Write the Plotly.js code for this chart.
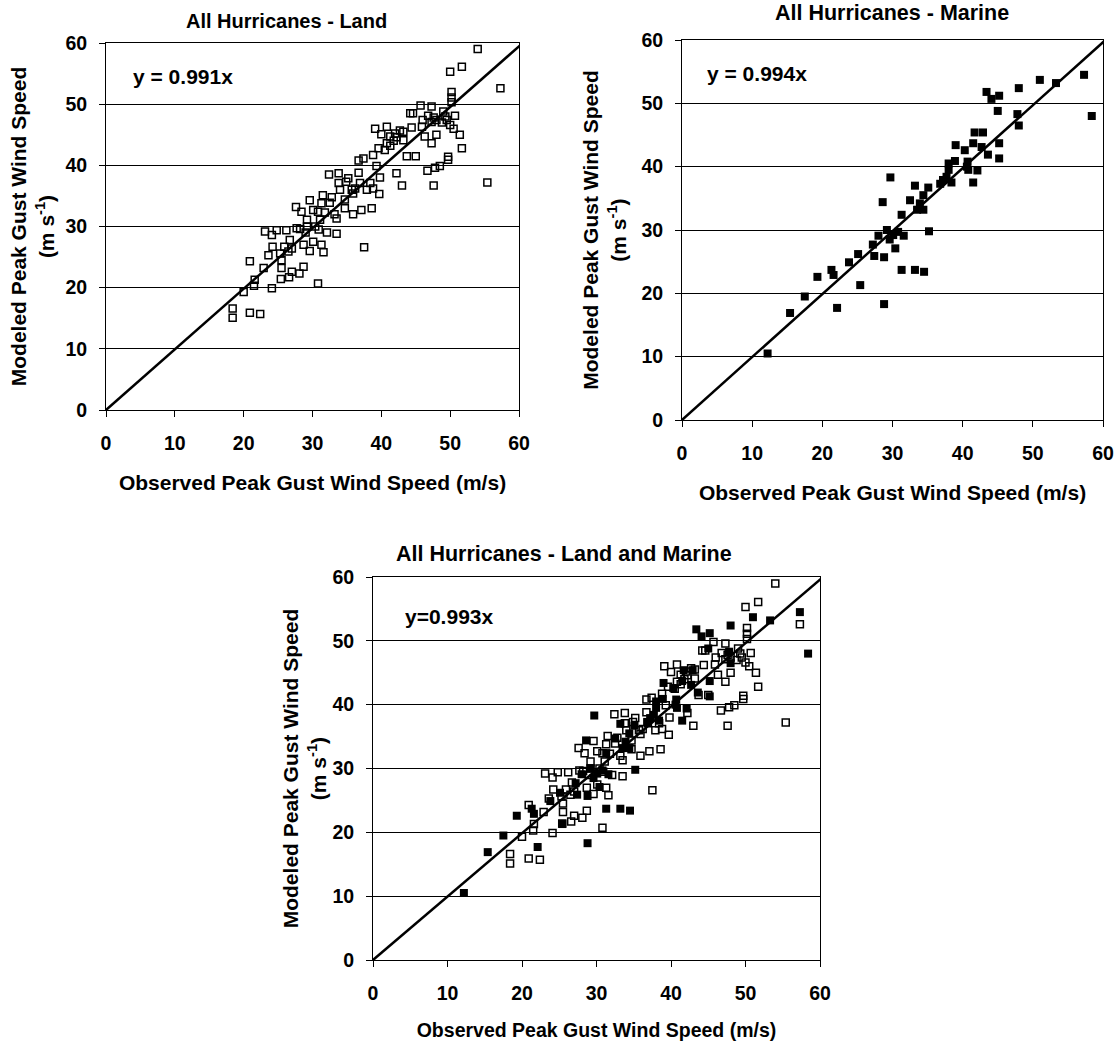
<!DOCTYPE html>
<html>
<head>
<meta charset="utf-8">
<script src="https://cdn.plot.ly/plotly-3.0.1.min.js"></script>
<style>html,body{margin:0;padding:0;background:#fff;}#chart{width:1119px;height:1044px;}</style>
</head>
<body>
<div id="chart"></div>
<script>
// ---- Data ----
const landObserved = [54.0,50.0,51.7,57.3,50.2,50.2,50.2,45.7,47.3,44.2,44.6,49.0,50.7,47.6,46.8,47.3,48.0,49.5,50.0,50.5,51.4,51.7,45.9,46.3,48.0,47.3,44.4,43.2,42.7,42.0,41.3,40.8,39.1,40.0,42.2,43.2,40.8,39.6,40.5,41.3,43.7,45.0,49.7,49.7,48.5,47.8,46.7,47.6,55.4,43.0,42.2,38.8,37.4,36.7,39.3,39.8,36.7,35.2,33.8,32.4,33.8,34.9,36.9,38.4,36.2,35.7,37.9,38.8,39.7,35.9,34.7,31.5,29.6,31.3,32.5,27.6,28.4,30.1,30.8,31.8,33.5,34.7,35.9,37.1,38.6,29.2,31.1,27.7,29.2,30.4,30.9,23.1,24.1,24.8,26.2,26.7,32.1,33.5,28.7,30.1,29.6,31.3,31.6,37.5,24.2,23.6,25.3,25.5,26.5,27.0,20.9,22.9,25.5,27.0,28.1,28.7,26.6,25.4,21.6,21.5,30.8,24.1,20.0,18.4,18.4,20.9,22.4,28.2,32.8,33.2,25.9,48.8,49.3,46.0,41.8,29.0,34.0];
const landModeled  = [59.0,55.3,56.1,52.6,52.0,51.1,50.3,49.8,49.6,48.5,48.5,48.8,48.1,47.8,48.1,47.1,47.4,47.4,46.6,46.0,45.0,42.8,46.3,44.7,45.0,43.6,46.2,45.5,45.7,45.2,44.7,46.3,46.0,45.1,44.6,44.1,43.6,42.8,42.5,43.2,41.5,41.5,41.4,40.9,39.9,39.6,39.1,36.7,37.2,36.7,38.7,41.7,41.1,40.8,39.9,38.0,38.8,37.9,38.7,38.5,37.1,37.3,37.1,37.1,36.2,36.0,36.0,36.2,35.3,35.4,34.4,35.1,34.3,33.8,33.9,33.2,32.4,32.7,32.4,32.3,31.3,33.0,32.0,32.7,33.0,31.1,31.1,29.7,30.0,30.0,29.5,29.2,28.6,29.4,29.4,27.8,29.0,28.8,27.0,27.5,26.0,27.0,25.8,26.6,26.7,25.3,25.6,24.5,25.9,26.4,24.3,23.2,23.2,22.6,22.3,23.4,21.7,21.4,21.3,20.3,20.7,19.9,19.3,16.6,15.1,15.9,15.7,29.6,34.8,32.0,26.7,47.0,48.0,47.4,44.0,29.0,36.0];

const marineObserved = [12.2,15.4,17.5,19.3,21.3,21.6,22.1,23.8,25.1,25.4,27.2,27.4,28.0,28.8,28.8,28.6,29.7,29.2,29.6,30.1,30.4,30.8,31.6,31.3,31.3,32.5,33.2,33.2,34.5,33.5,34.4,33.9,34.4,35.1,35.2,36.8,37.2,37.7,38.0,38.0,38.4,38.9,39.0,40.3,40.6,40.7,40.8,41.5,41.7,42.9,41.5,42.1,42.7,43.6,43.4,44.1,45.2,45.0,45.2,45.2,48.0,47.8,48.0,51.0,53.3,57.3,58.4];
const marineModeled  = [10.5,16.9,19.5,22.6,23.7,22.9,17.7,24.9,26.2,21.3,27.7,25.9,29.1,25.7,18.3,34.4,38.3,30.0,28.5,29.2,27.1,29.7,29.1,32.4,23.7,34.7,37.0,23.7,23.4,33.2,33.2,34.2,35.5,36.7,29.8,37.3,37.9,38.4,39.5,40.5,37.5,40.9,43.4,42.6,40.0,40.8,39.5,43.7,45.4,45.4,37.5,39.4,43.1,41.9,51.8,50.7,51.2,48.8,43.7,41.3,52.4,48.3,46.5,53.7,53.2,54.5,48.0];

const panelTitles = ["All Hurricanes - Land", "All Hurricanes - Marine", "All Hurricanes - Land and Marine"];
const trendSlopes = [0.991, 0.994, 0.993];
const trendLabels = ["y = 0.991x", "y = 0.994x", "y=0.993x"];
const xTitle = "Observed Peak Gust Wind Speed (m/s)";
const yTitle = "Modeled Peak Gust Wind Speed<br>(m s<sup>-1</sup>)";
const axisMax = 60;

// ---- Styling ----
const FONT = "Liberation Sans, Arial, Helvetica, sans-serif";
const font = size => ({family: FONT, size: size, color: "#000", weight: "bold"});
const tickFont = font(19.5);

const landMarker = {symbol: "square-open", size: 7, color: "#000", line: {width: 1.5, color: "#000"}};
const marineMarker = {symbol: "square", size: 8, color: "#000", line: {width: 0}};

function trendTrace(slope, xa, ya) {
  const xs = [0, axisMax * 1.05];
  return {x: xs, y: xs.map(v => v * slope), xaxis: xa, yaxis: ya, mode: "lines",
          line: {color: "#000", width: 2.5}, hoverinfo: "skip", showlegend: false};
}

const traces = [
  {x: landObserved, y: landModeled, xaxis: "x", yaxis: "y", mode: "markers", marker: landMarker, showlegend: false},
  trendTrace(trendSlopes[0], "x", "y"),
  {x: marineObserved, y: marineModeled, xaxis: "x2", yaxis: "y2", mode: "markers", marker: marineMarker, showlegend: false},
  trendTrace(trendSlopes[1], "x2", "y2"),
  {x: landObserved, y: landModeled, xaxis: "x3", yaxis: "y3", mode: "markers", marker: landMarker, showlegend: false},
  {x: marineObserved, y: marineModeled, xaxis: "x3", yaxis: "y3", mode: "markers", marker: marineMarker, showlegend: false},
  trendTrace(trendSlopes[2], "x3", "y3")
];

function xAxis(domain, anchor, titleSize, standoff) {
  return {domain: domain, anchor: anchor, range: [0, axisMax], dtick: 10, tick0: 0,
    showgrid: false, zeroline: false, showline: true, mirror: true, linecolor: "#000", linewidth: 1,
    ticks: "outside", ticklen: 6, tickwidth: 1, tickcolor: "#000", tickfont: tickFont,
    ticklabelstandoff: 10,
    title: {text: xTitle, font: font(titleSize), standoff: standoff}};
}
function yAxis(domain, anchor, titleSize, standoff) {
  return {domain: domain, anchor: anchor, range: [0, axisMax], dtick: 10, tick0: 0,
    showgrid: true, gridcolor: "#000", gridwidth: 1, zeroline: false,
    showline: true, mirror: true, linecolor: "#000", linewidth: 1,
    ticks: "outside", ticklen: 6, tickwidth: 1, tickcolor: "#000", tickfont: tickFont,
    ticklabelstandoff: 8,
    title: {text: yTitle, font: font(titleSize), standoff: standoff}};
}

const W = 1119, H = 1044;
const px = v => v / W, py = v => 1 - v / H;

const layout = {
  width: W, height: H,
  margin: {l: 0, r: 0, t: 0, b: 0},
  paper_bgcolor: "#fff", plot_bgcolor: "#fff",
  showlegend: false,
  xaxis: xAxis([px(106), px(519)], "y", 21, 21),
  yaxis: yAxis([py(410), py(43)], "x", 21, 5),
  xaxis2: xAxis([px(682), px(1103)], "y2", 21, 21),
  yaxis2: yAxis([py(420), py(40)], "x2", 21, 9),
  xaxis3: xAxis([px(373), px(820)], "y3", 19.5, 19),
  yaxis3: yAxis([py(960), py(577)], "x3", 21, 0),
  annotations: [
    {text: panelTitles[0], xref: "paper", yref: "paper", x: px(286), y: py(21), xanchor: "center", yanchor: "middle", showarrow: false, font: font(20)},
    {text: panelTitles[1], xref: "paper", yref: "paper", x: px(892), y: py(13), xanchor: "center", yanchor: "middle", showarrow: false, font: font(21.5)},
    {text: panelTitles[2], xref: "paper", yref: "paper", x: px(564), y: py(554), xanchor: "center", yanchor: "middle", showarrow: false, font: font(21.5)},
    {text: trendLabels[0], xref: "x", yref: "y", x: 3.6, y: 54.5, xanchor: "left", yanchor: "middle", showarrow: false, font: font(21)},
    {text: trendLabels[1], xref: "x2", yref: "y2", x: 3.3, y: 54.7, xanchor: "left", yanchor: "middle", showarrow: false, font: font(21)},
    {text: trendLabels[2], xref: "x3", yref: "y3", x: 4.0, y: 53.8, xanchor: "left", yanchor: "middle", showarrow: false, font: font(21)}
  ]
};

Plotly.newPlot("chart", traces, layout, {staticPlot: true, displayModeBar: false});
</script>
</body>
</html>
